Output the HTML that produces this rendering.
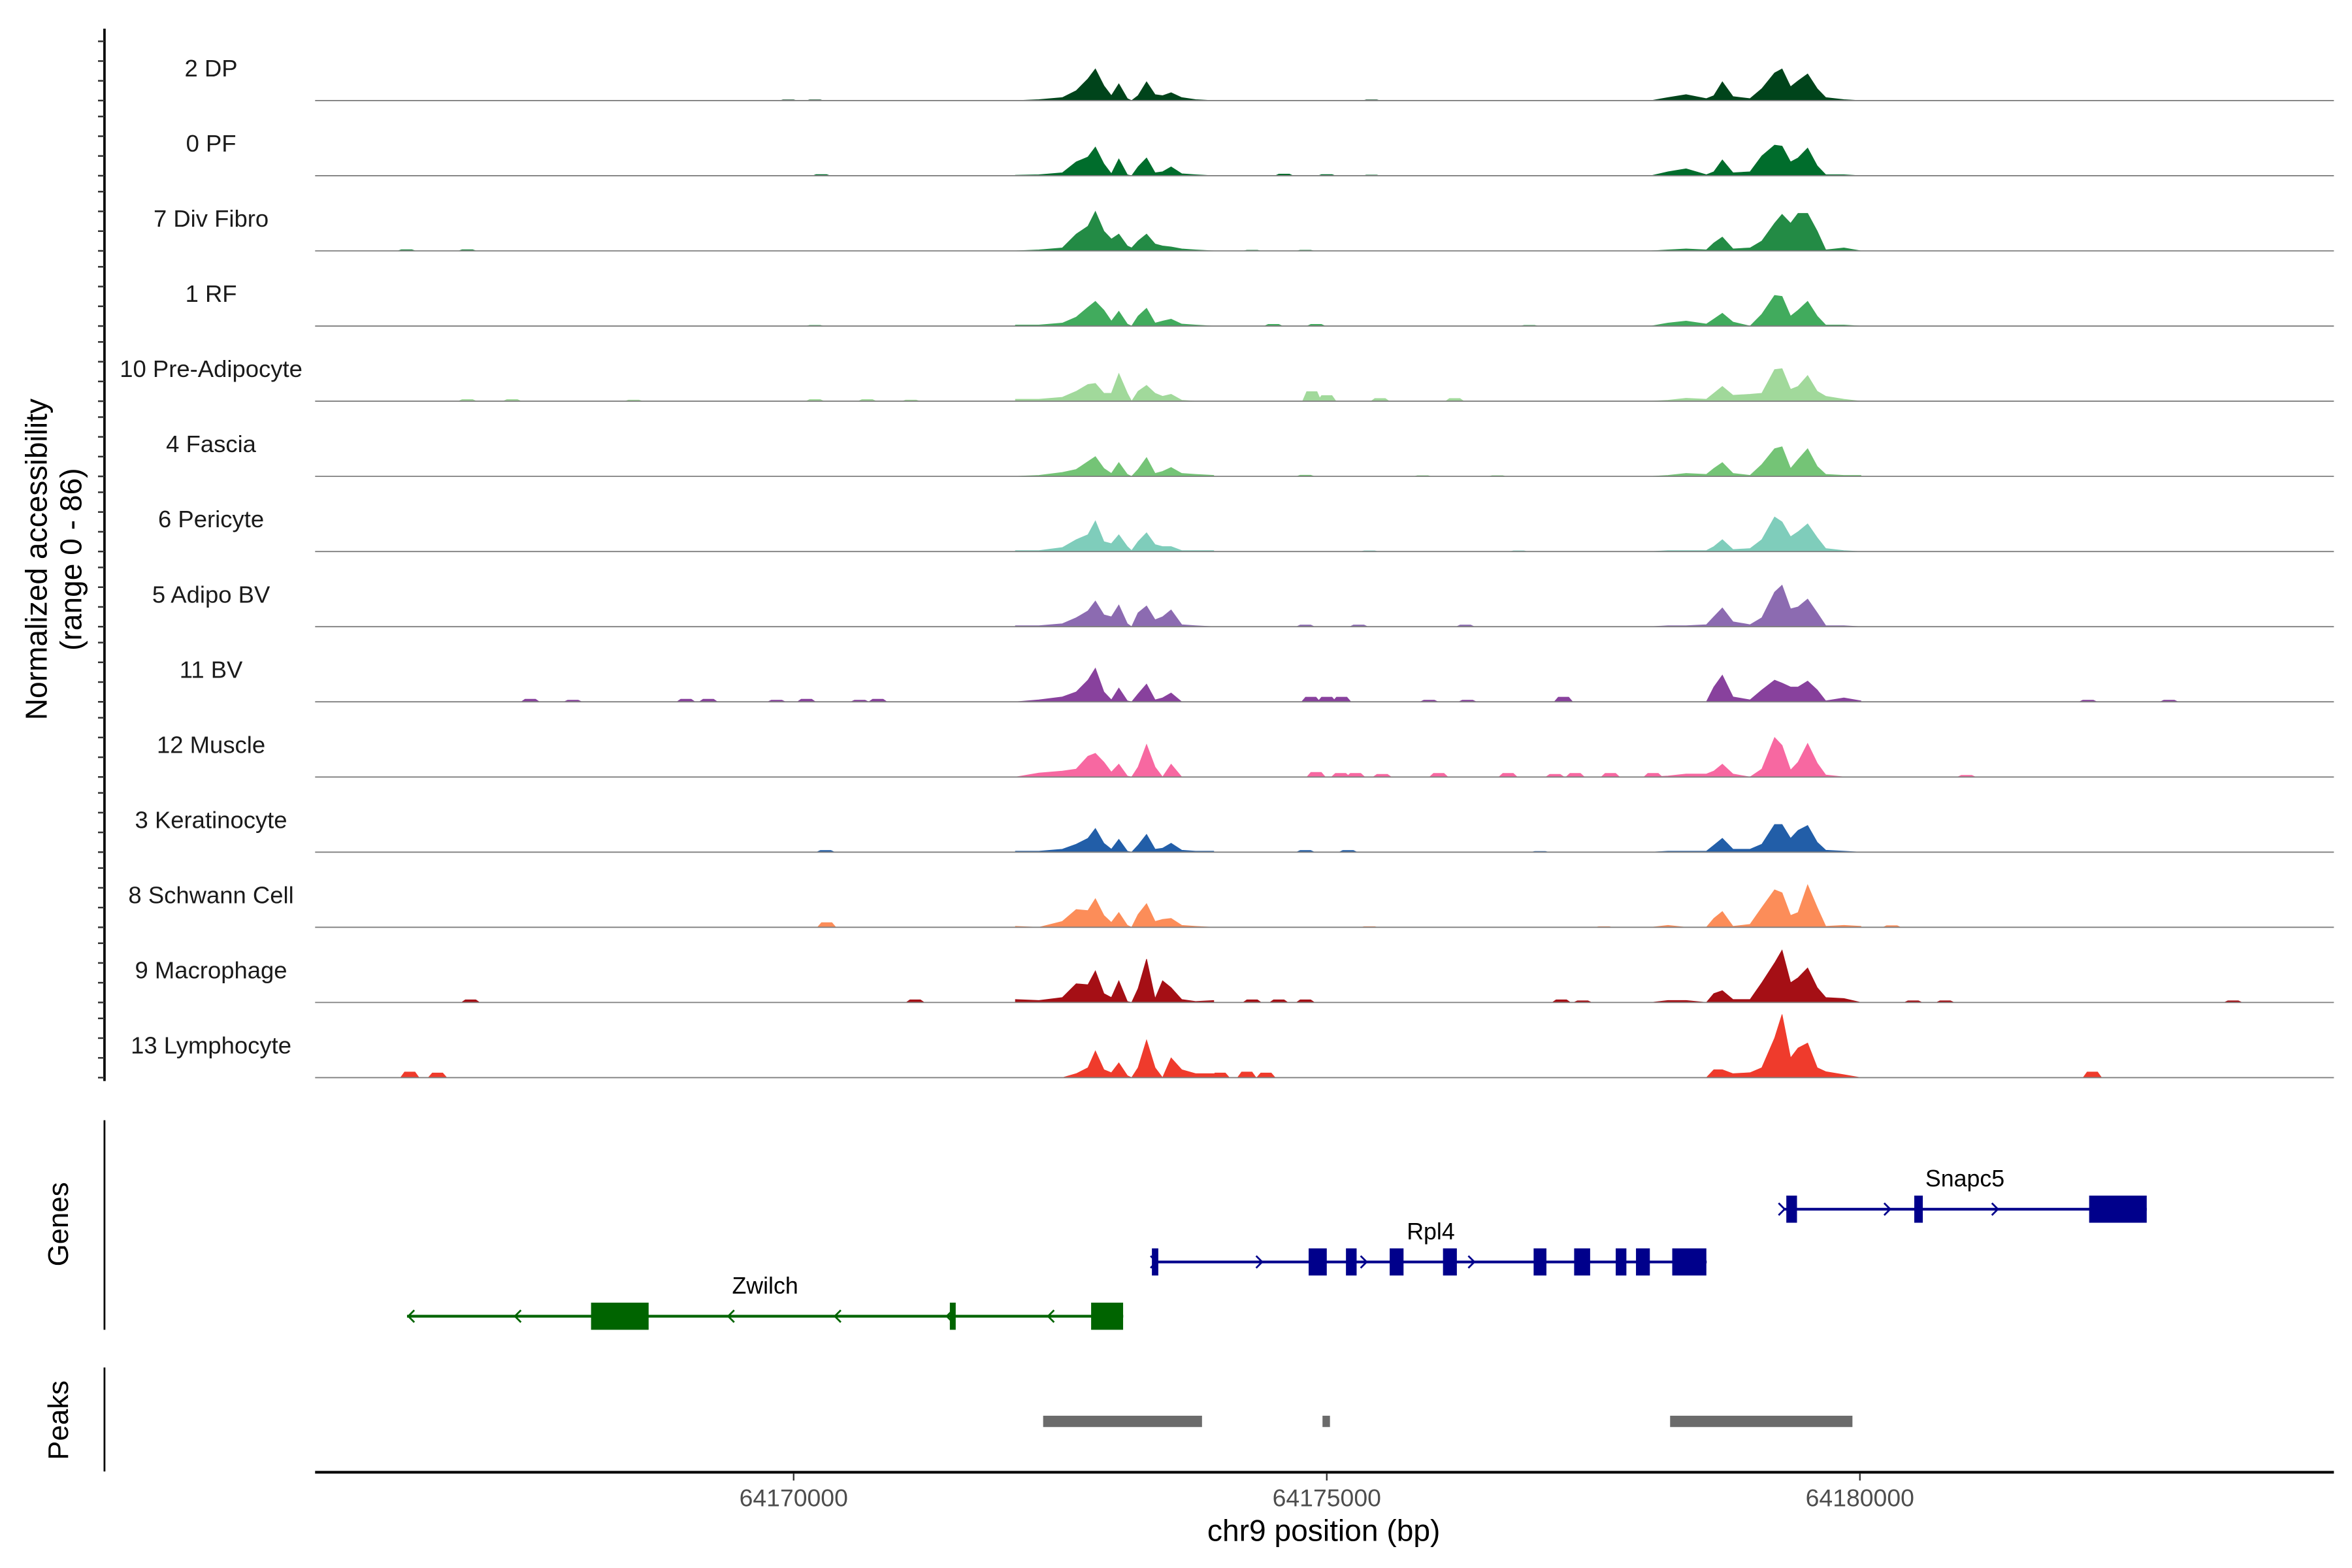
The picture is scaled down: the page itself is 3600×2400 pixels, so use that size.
<!DOCTYPE html>
<html><head><meta charset="utf-8"><style>
html,body{margin:0;padding:0;background:#fff;}
svg{display:block;font-family:"Liberation Sans",Arial,sans-serif;}
</style></head><body>
<svg id="chart" width="3600" height="2400" viewBox="0 0 1560 1040" preserveAspectRatio="none" xmlns="http://www.w3.org/2000/svg">
<g id="tracks"></g>
<g id="yaxis"></g>
<g id="genes"></g>
<g id="peaks"></g>
<g id="xaxis"></g>
<text transform="translate(31,371) rotate(-90)" text-anchor="middle" font-size="20" fill="#000">Normalized accessibility</text>
<text transform="translate(54,371) rotate(-90)" text-anchor="middle" font-size="20" fill="#000">(range 0 - 86)</text>
<text transform="translate(45,812) rotate(-90)" text-anchor="middle" font-size="19" fill="#000">Genes</text>
<text transform="translate(45,942) rotate(-90)" text-anchor="middle" font-size="19" fill="#000">Peaks</text>
<text x="878" y="1022" text-anchor="middle" font-size="20" fill="#000">chr9 position (bp)</text>
</svg>
<script>
const NS="http://www.w3.org/2000/svg";
// ---- data ----
const trackNames=["2 DP","0 PF","7 Div Fibro","1 RF","10 Pre-Adipocyte","4 Fascia","6 Pericyte","5 Adipo BV","11 BV","12 Muscle","3 Keratinocyte","8 Schwann Cell","9 Macrophage","13 Lymphocyte"];
const trackColors=["#00441b","#006d2c","#238b45","#41ab5d","#a1d99b","#74c476","#7fcdbb","#8c6bb1","#88419d","#f768a1","#225ea8","#fc8d59","#a50f15","#ef3b2c"];
const landmarkKb=[64172.08,64172.30,64172.52,64172.65,64172.76,64172.83,64172.91,64172.98,64173.05,64173.13,64173.17,64173.23,64173.31,64173.39,64173.46,64173.54,64173.64,64173.77,64173.94,
64178.04,64178.20,64178.37,64178.56,64178.63,64178.71,64178.81,64178.97,64179.08,64179.20,64179.27,64179.35,64179.42,64179.51,64179.60,64179.68,64179.85,64180.01];
const cov2DP=[0,1,3,10,22,32,15,5,17,2,0,5,19,6,5,8,3,1,0, 0,3,6,2,5,19,4,2,12,28,32,14,20,27,12,3,1,0];
const cov0PF=[0.5,1,3,14,19,29,12,2,17,1,0,9,18,3,4,9,2,1,0, 0,4,7,1,4,16,3,4,20,31,30,14,18,28,10,1,1,0];
const cov7DivFibro=[0,1,3,17,25,40,20,12,17,5,3,10,17,7,5,4,2,1,0, 0,1,2,1,8,14,2,3,10,28,37,28,38,38,20,1,3,0];
const cov1RF=[1,1,3,9,19,25,16,5,15,2,0,10,18,3,5,7,2,1,0, 0,3,5,2,7,13,4,0,12,31,30,10,16,25,10,1,1,0];
const cov10PreAdipo=[2,2,4,10,17,18,8,8,28,8,0,10,16,8,5,7,1,0,0, 0,1,3,2,8,15,6,7,8,32,33,12,15,26,10,5,2,0];
const cov4Fascia=[0,1,4,7,15,20,8,3,14,2,0,7,19,3,5,9,3,2,1, 0,1,3,2,8,14,3,1,12,28,30,8,17,28,10,2,1,1];
const cov6Pericyte=[1,1,4,12,17,31,10,8,17,5,1,10,19,7,5,5,1,1,1, 0,1,1,1,5,12,2,3,12,35,30,15,20,28,14,3,1,0];
const cov5AdipoBV=[1,1,3,9,16,26,12,10,22,3,0,14,21,7,10,17,2,1,0, 0,1,1,2,10,19,5,2,9,35,42,18,20,28,14,1,1,0];
const cov11BV=[0,2,5,10,22,34,10,2,14,1,0,8,18,2,4,9,0,0,0, 0,0,0,0,15,27,5,2,12,22,19,15,15,21,12,1,4,1];
const cov12Muscle=[0,4,6,8,21,24,15,5,13,1,0,10,33,10,0,13,0,0,0, 0,1,3,3,6,13,3,0,8,40,32,7,15,34,14,2,0,0];
const cov3Kera=[1,1,3,8,14,24,9,3,13,1,0,7,18,3,4,9,2,1,1, 0,1,1,1,7,14,3,3,8,28,28,14,22,27,10,2,1,0];
const cov8Schwann=[1,0,6,18,17,29,12,5,15,2,0,13,24,6,8,9,2,1,0, 0,2,0,0,9,16,1,3,20,38,35,12,15,43,20,1,2,1];
const cov9Macro=[3,2,5,19,18,32,9,5,22,1,0,14,44,4,22,15,3,1,2, 0,2,2,0,9,12,3,3,20,40,53,20,25,35,15,5,4,0];
const cov13Lympho=[0,0,0,4,10,27,8,5,15,2,0,10,38,10,0,20,8,4,4, 0,0,0,0,8,8,4,5,10,40,64,20,30,35,10,6,3,0];
const coverage=[cov2DP,cov0PF,cov7DivFibro,cov1RF,cov10PreAdipo,cov4Fascia,cov6Pericyte,cov5AdipoBV,cov11BV,cov12Muscle,cov3Kera,cov8Schwann,cov9Macro,cov13Lympho];
const blipKb=[
[64169.95,64170.2,64175.42],
[64170.26,64174.6,64175.0,64175.42],
[64166.37,64166.94,64174.3,64174.8],
[64170.2,64174.5,64174.9,64176.9],
[64166.94,64167.36,64168.5,64170.2,64170.69,64171.1,64174.86,64175.0,64175.5,64176.2],
[64174.8,64175.9,64176.6],
[64175.4,64176.8],
[64174.8,64175.3,64176.3],
[64167.53,64167.93,64168.99,64169.2,64169.84,64170.12,64170.62,64170.79,64174.85,64175.0,64175.14,64175.96,64176.32,64177.22,64182.14,64182.9],
[64174.9,64175.13,64175.27,64175.52,64176.05,64176.7,64177.14,64177.33,64177.66,64178.06,64181.0],
[64170.3,64174.8,64175.2,64177.0],
[64170.31,64175.4,64177.6,64180.3],
[64166.97,64171.14,64174.3,64174.55,64174.8,64177.2,64177.4,64180.5,64180.8,64183.5],
[64166.4,64166.66,64174.0,64174.25,64174.43,64182.18]];
const blipVal=[
[1,1,1],[1.5,2,1.5,1],[1.5,1.5,1,1],[1,2,2,1],[2,2,1.5,2,2,1.5,10,6,3,3],[1.5,1,1],[1,1],[2,2,2],
[3,2,3,3,2,3,2,3,5,5,5,2,2,5,2,2],[5,4,4,3,4,4,3,4,4,4,2],[2,2,2,1],[5,1,1,2],[3,3,3,3,3,3,2,2,2,2],[6,5,5,6,5,6]];
const geneNames=["Zwilch","Rpl4","Snapc5"];
const geneStart=[64166.374,64173.388,64179.28];
const geneEnd=[64173.091,64178.563,64182.69];
const geneStrand=[-1,1,1];
const geneRow=[873,837,802];
const geneColor=["#006400","#00008b","#00008b"];
const geneExons=[
[[64168.10,64168.64],[64171.465,64171.52],[64172.79,64173.09]],
[[64173.36,64173.42],[64174.83,64175.0],[64175.18,64175.28],[64175.59,64175.72],[64176.09,64176.22],[64176.94,64177.06],[64177.32,64177.47],[64177.71,64177.81],[64177.90,64178.03],[64178.24,64178.56]],
[[64179.31,64179.41],[64180.51,64180.59],[64182.15,64182.69]]];
const geneArrows=[[64166.40,64167.40,64169.40,64170.40,64171.45,64172.40],[64173.39,64174.38,64175.36,64176.37],[64179.28,64180.27,64181.28]];
const peakStart=[64172.34,64174.96,64178.22];
const peakEnd=[64173.83,64175.03,64179.93];
const xTicks=[64170000,64175000,64180000];
// ---- scales ----
const X0=209,X1=1548;
function xs(kb){return 880+(kb-64175)/0.01414;}
const UNIT=0.655;
function baseY(i){return 66.7+i*49.85;}
function ys(i,v){return baseY(i)-v*UNIT;}
function mk(tag,attrs,parent){const e=document.createElementNS(NS,tag);for(const k in attrs)e.setAttribute(k,attrs[k]);parent.appendChild(e);return e;}
// ---- tracks ----
const gT=document.getElementById('tracks');
trackNames.forEach((name,i)=>{
  const g=mk('g',{},gT);
  
  
  const vals=coverage[i];
  let d='M'+xs(landmarkKb[0]).toFixed(2)+','+baseY(i);
  for(let k=0;k<landmarkKb.length;k++){
    if(k===19){d+='L'+xs(landmarkKb[18]).toFixed(2)+','+baseY(i)+'L'+xs(landmarkKb[19]).toFixed(2)+','+baseY(i);}
    d+='L'+xs(landmarkKb[k]).toFixed(2)+','+ys(i,vals[k]).toFixed(2);
  }
  d+='L'+xs(landmarkKb[landmarkKb.length-1]).toFixed(2)+','+baseY(i)+'Z';
  const p=mk('path',{d:d,fill:trackColors[i],stroke:trackColors[i],'stroke-width':0.4},g);
  
  
  blipKb[i].forEach((kb,j)=>{
    const h=blipVal[i][j];
    const pts=[[kb-0.09,0],[kb-0.05,h],[kb+0.05,h],[kb+0.09,0]].map(q=>xs(q[0]).toFixed(2)+','+ys(i,q[1]).toFixed(2)).join(' ');
    const b=mk('polygon',{points:pts,fill:trackColors[i]},g);
    
    
  });
  const bl=mk('line',{x1:X0,x2:X1,y1:baseY(i),y2:baseY(i),stroke:'#7f7f7f','stroke-width':0.8},g);
  
  
  const t=mk('text',{x:140,y:baseY(i)-16,'text-anchor':'middle','font-size':15.8,fill:'#1a1a1a'},g);
  t.textContent=name;
  
  
});
// ---- y axis ----
const gY=document.getElementById('yaxis');
mk('line',{x1:69.3,x2:69.3,y1:19,y2:717,stroke:'#000','stroke-width':1.6},gY);
for(let i=0;i<14;i++){for(let k=0;k<4;k++){const y=baseY(i)-k*13.1;mk('line',{x1:65,x2:69.3,y1:y,y2:y,stroke:'#333','stroke-width':1.1},gY);}}
// ---- genes ----
const gG=document.getElementById('genes');
mk('line',{x1:69.3,x2:69.3,y1:743,y2:882,stroke:'#000','stroke-width':1.2},gG);
geneNames.forEach((n,i)=>{
  const g=mk('g',{},gG);
  
  
  const y=geneRow[i],c=geneColor[i];
  mk('line',{x1:xs(geneStart[i]),x2:xs(geneEnd[i]),y1:y,y2:y,stroke:c,'stroke-width':1.8},g);
  geneExons[i].forEach(e=>{const r=mk('rect',{x:xs(e[0]),y:y-9,width:Math.max(1.5,xs(e[1])-xs(e[0])),height:18,fill:c},g);
    
    });
  geneArrows[i].forEach(a=>{const x=xs(a),s=geneStrand[i];
    mk('polyline',{points:(x-3*s)+','+(y-4)+' '+(x+1*s)+','+y+' '+(x-3*s)+','+(y+4),fill:'none',stroke:c,'stroke-width':1.2},g);});
  const t=mk('text',{x:(xs(geneStart[i])+xs(geneEnd[i]))/2,y:y-15,'text-anchor':'middle','font-size':15.5,fill:'#000'},g);
  t.textContent=n;
  
  
});
// ---- peaks ----
const gP=document.getElementById('peaks');
mk('line',{x1:69.3,x2:69.3,y1:907,y2:976,stroke:'#000','stroke-width':1.2},gP);
peakStart.forEach((s,i)=>{const r=mk('rect',{x:xs(s),y:939,width:Math.max(4,xs(peakEnd[i])-xs(s)),height:7.5,fill:'#6b6b6b'},gP);
  
  });
// ---- x axis ----
const gX=document.getElementById('xaxis');
mk('line',{x1:X0,x2:X1,y1:976.5,y2:976.5,stroke:'#000','stroke-width':1.8},gX);
xTicks.forEach(t=>{const x=xs(t/1000);
  mk('line',{x1:x,x2:x,y1:977,y2:982,stroke:'#333','stroke-width':1},gX);
  const tx=mk('text',{x:x,y:999,'text-anchor':'middle','font-size':16.2,fill:'#4d4d4d'},gX);
  tx.textContent=String(t);
  
  });
</script>
</body></html>
